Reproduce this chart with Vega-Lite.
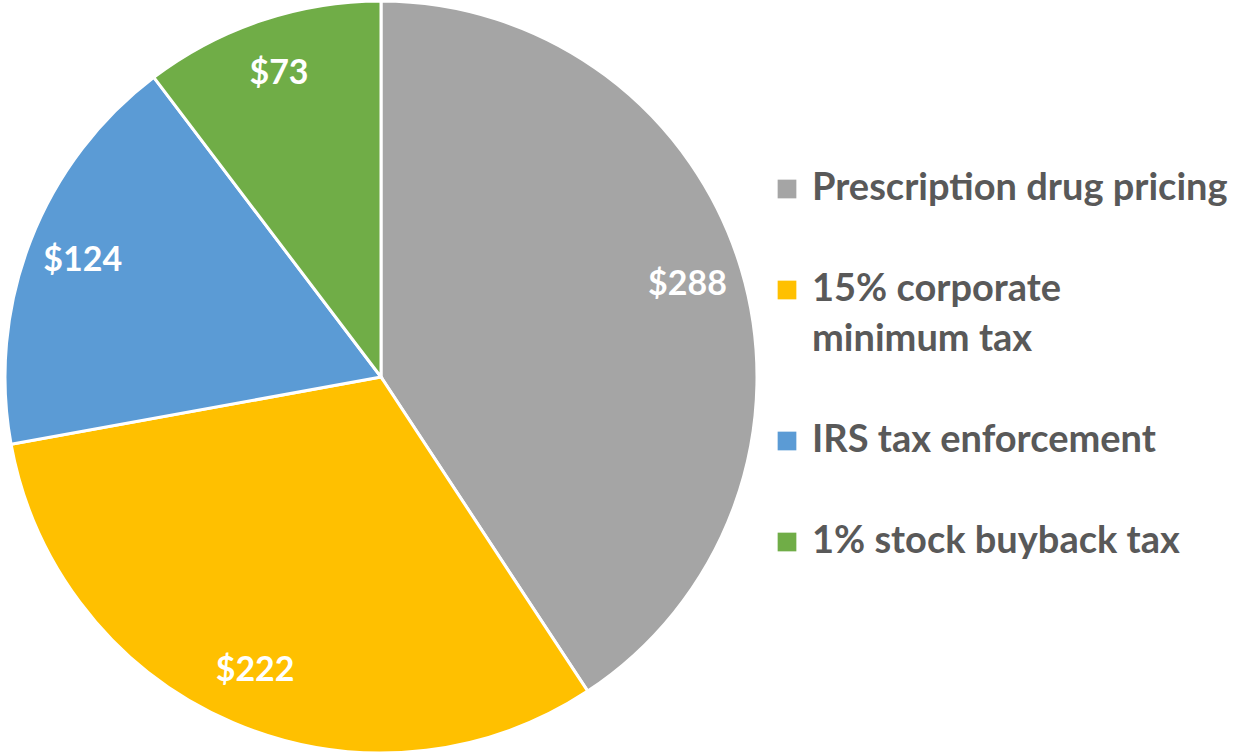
{
  "$schema": "https://vega.github.io/schema/vega-lite/v6.json",
  "width": 762,
  "height": 754,
  "padding": {"left": 0, "top": 0, "right": 486, "bottom": 0},
  "autosize": {"type": "none"},
  "background": "white",
  "view": {"stroke": null},
  "data": {"values": [
    {"category": "Prescription drug pricing", "value": 288, "order": 1, "label": "$288"},
    {"category": "15% corporate minimum tax", "value": 222, "order": 2, "label": "$222"},
    {"category": "IRS tax enforcement", "value": 124, "order": 3, "label": "$124"},
    {"category": "1% stock buyback tax", "value": 73, "order": 4, "label": "$73"}
  ]},
  "encoding": {
    "theta": {"field": "value", "type": "quantitative", "stack": true},
    "order": {"field": "order", "type": "quantitative"},
    "color": {
      "field": "category",
      "type": "nominal",
      "scale": {
        "domain": ["Prescription drug pricing", "15% corporate minimum tax", "IRS tax enforcement", "1% stock buyback tax"],
        "range": ["#A5A5A5", "#FFC000", "#5B9BD5", "#70AD47"]
      },
      "legend": {
        "orient": "none",
        "legendX": 768,
        "legendY": 170,
        "title": null,
        "labelFont": "Lato",
        "labelFontWeight": "bold",
        "labelFontSize": 38,
        "labelColor": "#595959",
        "labelLimit": 0,
        "labelOffset": 6,
        "symbolType": "square",
        "symbolSize": 350,
        "symbolStrokeWidth": 0,
        "symbolOpacity": 1,
        "rowPadding": 63,
        "labelExpr": "datum.label == '15% corporate minimum tax' ? ['15% corporate', 'minimum tax'] : datum.label"
      }
    }
  },
  "layer": [
    {"mark": {"type": "arc", "outerRadius": 376, "stroke": "white", "strokeWidth": 3}},
    {
      "mark": {"type": "text", "radius": 320, "font": "Lato", "fontWeight": "bold", "fontSize": 34},
      "encoding": {"text": {"field": "label"}, "color": {"value": "white"}}
    }
  ],
  "config": {"style": {"guide-label": {"lineHeight": 50}}}
}
